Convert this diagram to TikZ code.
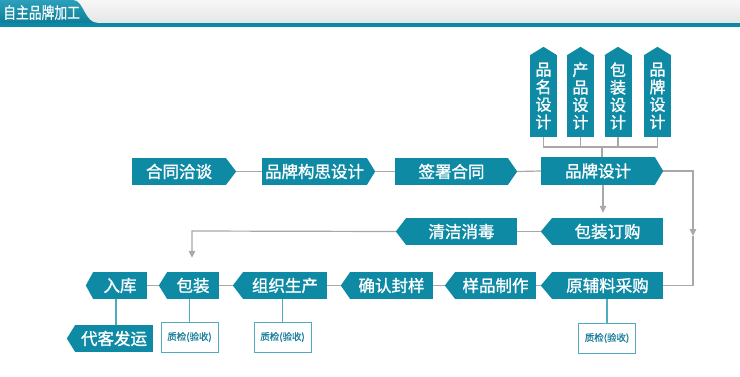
\documentclass[tikz,border=0pt]{standalone}
\usepackage{fontspec}
\usepackage{graphicx}
\newfontfamily\cjk{Noto Sans CJK SC}
\newfontfamily\cjkb{Noto Sans CJK SC}[FakeBold=1.3]
\newfontfamily\cjkm{Noto Sans CJK SC}[FakeBold=0.6]
\usetikzlibrary{calc,arrows.meta}
\definecolor{tealc}{RGB}{14,138,164}
\definecolor{tabtop}{RGB}{44,160,186}
\definecolor{tabbot}{RGB}{12,126,152}
\definecolor{barc}{RGB}{10,138,166}
\definecolor{linec}{RGB}{168,168,168}
\definecolor{qcline}{RGB}{80,170,192}
\definecolor{qctext}{RGB}{30,128,158}
\newcommand\RBox[7]{%
  \node[flowbox,minimum width={#3-#2},minimum height={#5-#4}] (#1) at ({(#2+#3)/2},{(#4+#5)/2}) {#6};
  \fill[tealc] ($(#1.north east)+(-0.5,0)$) -- ($(#1.east)+(#7,0)$) coordinate (#1-tip) -- ($(#1.south east)+(-0.5,0)$) -- cycle;}
\newcommand\LBox[7]{%
  \node[flowbox,minimum width={#3-#2},minimum height={#5-#4}] (#1) at ({(#2+#3)/2},{(#4+#5)/2}) {#6};
  \fill[tealc] ($(#1.north west)+(0.5,0)$) -- ($(#1.west)+(-#7,0)$) coordinate (#1-tip) -- ($(#1.south west)+(0.5,0)$) -- cycle;}
\newcommand\VBox[3]{%
  \node[flowbox,align=center,minimum width=27,minimum height=82,font=\cjkb\fontsize{16}{17.5}\selectfont] (#1) at (#2,96) {#3};
  \fill[tealc] ($(#1.north west)+(0,0.5)$) -- ($(#1.north)+(0,-8)$) -- ($(#1.north east)+(0,0.5)$) -- cycle;}
\begin{document}
\begin{tikzpicture}[x=1pt,y=-1pt,
  flowbox/.style={fill=tealc,text=white,inner sep=0pt,font=\cjkb\fontsize{16.5}{18}\selectfont},
  conn/.style={draw=linec,line width=1.2pt},
  arr/.style={conn,-{Triangle[width=6.5pt,length=7pt]}},
  qcbox/.style={draw=qcline,line width=1pt,fill=white,text=qctext,inner sep=0pt,minimum width=57,minimum height=30,font=\cjkm\fontsize{9.5}{11}\selectfont},
  qcconn/.style={draw=qcline,line width=1.2pt}]
\useasboundingbox (0,0) rectangle (740,376);
\fill[white] (0,0) rectangle (740,376);
% header
\shade[top color=white!97!black,bottom color=white!90!black] (0,0) rectangle (740,23);
\shade[top color=tabtop,bottom color=tabbot] (0,0) -- (73,0) .. controls (84,0) and (84,23) .. (98,23) -- (0,23) -- cycle;
\fill[barc] (0,23) rectangle (740,27);
\node[anchor=west,text=white,inner sep=0pt,font=\cjkm\fontsize{16}{17}\selectfont] (title) at (3,12.5) {\scalebox{0.8}[1]{自主品牌加工}};
% top vertical boxes
\VBox{v1}{543.5}{品\\名\\设\\计}
\VBox{v2}{580.5}{产\\品\\设\\计}
\VBox{v3}{618}{包\\装\\设\\计}
\VBox{v4}{657.5}{品\\牌\\设\\计}
% row 1
\RBox{hetong}{132}{226}{158}{185}{合同洽谈}{10}
\RBox{goushi}{262}{367}{158}{185}{品牌构思设计}{8}
\RBox{qianshu}{395}{508}{158}{185}{签署合同}{9}
\RBox{pinpai}{541}{655}{157}{185}{品牌设计}{8}
% row 2
\LBox{qingjie}{406}{517}{218}{245}{清洁消毒}{10}
\LBox{bzdg}{552}{663}{218}{245}{包装订购}{11}
% row 3
\LBox{yuanfu}{552}{663}{272}{299}{原辅料采购}{11}
\LBox{yangpin}{455}{536}{272}{299}{样品制作}{10}
\LBox{queren}{350}{433}{272}{299}{确认封样}{9}
\LBox{zuzhi}{243}{327}{272}{299}{组织生产}{10}
\LBox{baozhuang}{167}{219}{272}{299}{包装}{8}
\LBox{ruku}{93}{147}{272}{299}{入库}{7}
\LBox{daike}{75}{153}{325}{352}{代客发运}{8}
% quality check boxes
\node[qcbox] (qc1) at (189.5,337) {质检(验收)};
\node[qcbox] (qc2) at (282.5,337) {质检(验收)};
\node[qcbox] (qc3) at (607,338) {质检(验收)};
% top connectors
\coordinate (jy) at (602,147);
\draw[conn] (v1.south) -- (v1.south |- jy) -- (v4.south |- jy) -- (v4.south);
\draw[conn] (v2.south) -- (v2.south |- jy);
\draw[conn] (v3.south) -- (v3.south |- jy);
\draw[conn] (jy) -- (jy |- pinpai.north);
% row connectors
\draw[conn] (hetong-tip) -- (goushi.west);
\draw[conn] (goushi-tip) -- (qianshu.west);
\draw[conn] (qianshu-tip) -- (pinpai.west);
\coordinate (dn) at (603,185);
\draw[arr,shorten >=5pt] (dn) -- (dn |- bzdg.north);
\draw[conn] (bzdg-tip) -- (qingjie.east);
\coordinate (lc) at (192,231);
\draw[arr,shorten >=14pt] (qingjie-tip) -- (lc) -- (lc |- baozhuang.north);
\coordinate (rc1) at (693,171);
\coordinate (rarr) at (693,236);
\coordinate (rc2) at (693,285.5);
\draw[arr] (pinpai-tip) -- (rc1) -- (rarr);
\draw[conn] (rarr) -- (rc2) -- (yuanfu.east |- rc2);
\draw[conn] (yuanfu-tip) -- (yangpin.east);
\draw[conn] (yangpin-tip) -- (queren.east);
\draw[conn] (queren-tip) -- (zuzhi.east);
\draw[conn] (zuzhi-tip) -- (baozhuang.east);
\draw[conn] (baozhuang-tip) -- (ruku.east);
% qc / shipping connectors
\coordinate (rk) at (116,299);
\draw[qcconn] (rk) -- (rk |- daike.north);
\draw[qcconn] (qc1.north |- baozhuang.south) -- (qc1.north);
\draw[qcconn] (qc2.north |- zuzhi.south) -- (qc2.north);
\draw[qcconn] (qc3.north |- yuanfu.south) -- (qc3.north);
\end{tikzpicture}
\end{document}
